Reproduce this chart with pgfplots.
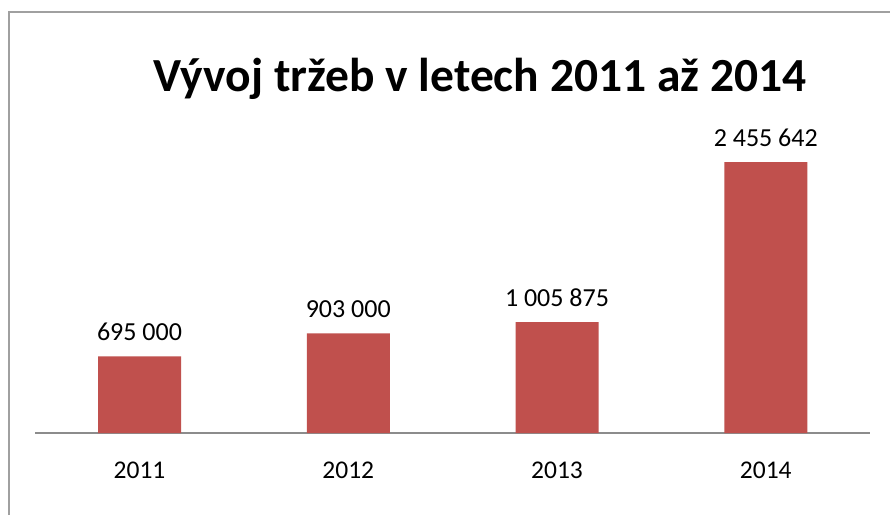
\documentclass[border=0pt]{standalone}
\usepackage{fontspec}
\setmainfont{Carlito}
\usepackage{pgfplots}
\pgfplotsset{compat=1.18}
\definecolor{barred}{HTML}{C0504D}
\definecolor{axisgray}{HTML}{8C8C8C}
\definecolor{framegray}{HTML}{A0A0A0}
\begin{document}
\begin{tikzpicture}
\useasboundingbox[fill=white] (0,0) rectangle (890pt,515pt);
\draw[framegray, line width=2pt] (9pt,0) -- (9pt,503pt) -- (890pt,503pt);
\node[anchor=base, font=\fontsize{47.5}{56}\bfseries\selectfont] at (480pt,423pt) {Vývoj tržeb v letech 2011 až 2014};
\begin{axis}[
    at={(139.5pt,82pt)}, anchor=origin,
    scale only axis,
    width=835pt, height=331pt,
    xmin=-0.5, xmax=3.5,
    ymin=0, ymax=3000000,
    axis x line*=bottom,
    axis y line=none,
    x axis line style={axisgray, line width=2pt},
    xtick={0,1,2,3},
    xticklabels={2011,2012,2013,2014},
    major tick length=0pt,
    xticklabel style={anchor=base, yshift=-45pt, font=\fontsize{25.5}{30}\selectfont},
    ytick=\empty,
    ybar, bar width=83pt,
    nodes near coords={\pgfmathprintnumber[fixed, precision=0, 1000 sep={\ }, assume math mode=true]{\pgfplotspointmeta}},
    every node near coord/.append style={anchor=base, yshift=16pt, font=\fontsize{26}{30}\selectfont, black},
]
\addplot[fill=barred, draw=none] coordinates {(0,695000) (1,903000) (2,1005875) (3,2455642)};
\end{axis}
\end{tikzpicture}
\end{document}
